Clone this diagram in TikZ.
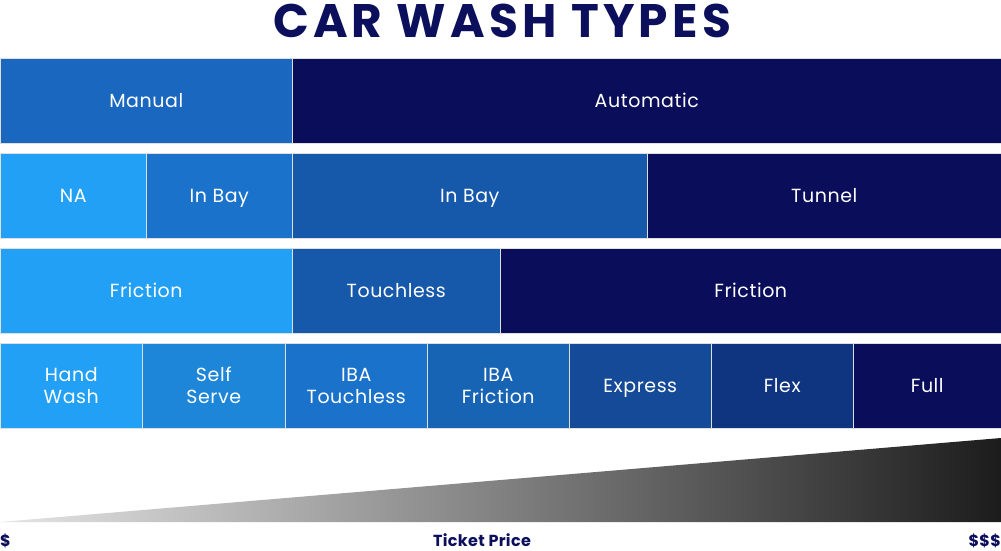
\documentclass[tikz,border=0pt]{standalone}
\usepackage{fontspec}
\setmainfont{Poppins}
\begin{document}
\begin{tikzpicture}[x=1pt,y=-1pt,
  cell/.style={draw=white!75!gray, line width=0.5pt, anchor=north west, inner sep=0pt,
    minimum height=85pt, text=white, align=center,
    font=\fontsize{19}{22}\selectfont\addfontfeatures{LetterSpace=3}},
  one/.style={text height=13.5pt, text depth=0pt},
  navy/.style={text=titlenavy}]
\definecolor{titlenavy}{HTML}{0B0F5C}
\definecolor{cA}{HTML}{22A0F5}
\definecolor{cB}{HTML}{1D86D8}
\definecolor{cC}{HTML}{1B72CA}
\definecolor{cD}{HTML}{1763B4}
\definecolor{cE}{HTML}{1658AA}
\definecolor{cF}{HTML}{154A98}
\definecolor{cG}{HTML}{0F3480}
\definecolor{cH}{HTML}{0A0E5A}
\definecolor{cM}{HTML}{1A67C0}
\useasboundingbox (0,0) rectangle (1001,550);
\fill[white] (0,0) rectangle (1001,550);
% title
\node[navy, anchor=base, inner sep=0pt, font=\fontsize{47}{50}\selectfont\bfseries\addfontfeatures{LetterSpace=9}] (title) at (502,37) {CAR WASH TYPES};
% row 1
\node[cell, one, fill=cM, minimum width=292pt] (manual) at (0,58) {Manual};
\node[cell, one, fill=cH, minimum width=709pt] (auto) at (292,58) {Automatic};
% row 2
\node[cell, one, fill=cA, minimum width=146pt] (na) at (0,153) {NA};
\node[cell, one, fill=cC, minimum width=146pt] (inbayA) at (146,153) {In Bay};
\node[cell, one, fill=cE, minimum width=355pt] (inbayB) at (292,153) {In Bay};
\node[cell, one, fill=cH, minimum width=354pt] (tunnel) at (647,153) {Tunnel};
% row 3
\node[cell, one, fill=cA, minimum width=292pt] (frictionA) at (0,248) {Friction};
\node[cell, one, fill=cE, minimum width=208pt] (touchless) at (292,248) {Touchless};
\node[cell, one, fill=cH, minimum width=501pt] (frictionB) at (500,248) {Friction};
% row 4
\node[cell, fill=cA, minimum width=142pt] (hand) at (0,343) {Hand\\Wash};
\node[cell, fill=cB, minimum width=143pt] (self) at (142,343) {Self\\Serve};
\node[cell, fill=cC, minimum width=142pt] (ibat) at (285,343) {IBA\\Touchless};
\node[cell, fill=cD, minimum width=142pt] (ibaf) at (427,343) {IBA\\Friction};
\node[cell, one, fill=cF, minimum width=142pt] (express) at (569,343) {Express};
\node[cell, one, fill=cG, minimum width=142pt] (flex) at (711,343) {Flex};
\node[cell, one, fill=cH, minimum width=148pt] (full) at (853,343) {Full};
% price wedge
\shade[left color=black!10, right color=black!89] (0,522) -- (1001,438) -- (1001,522) -- cycle;
% axis labels
\tikzset{axislab/.style={navy, inner sep=0pt, font=\fontsize{16}{18}\selectfont\bfseries\addfontfeatures{LetterSpace=2}}}
\node[axislab, anchor=base west] (low) at (0,546) {\$};
\node[axislab, anchor=base] (ticket) at (482,546) {Ticket Price};
\node[axislab, anchor=base east] (high) at (1001,546) {\$\$\$};
\end{tikzpicture}
\end{document}
